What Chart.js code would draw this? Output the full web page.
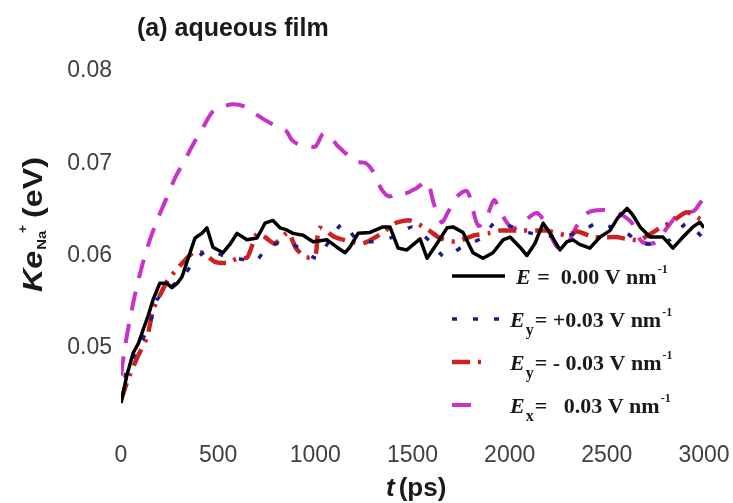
<!DOCTYPE html>
<html>
<head>
<meta charset="utf-8">
<script src="https://cdn.jsdelivr.net/npm/chart.js@4.4.1/dist/chart.umd.min.js"></script>
<style>
html, body { margin: 0; padding: 0; background: #fff; }
#wrap { width: 733px; height: 503px; }
</style>
</head>
<body>
<div id="wrap"><canvas id="keChart" width="733" height="503"></canvas></div>
<script>
// ---------------------------
// DATA : t (ps) / Ke Na+ (eV)
// ---------------------------

// E = 0.00 V/nm
const tE0 = [0, 30, 62, 90, 113, 140, 165, 200, 235, 262, 290, 314, 355, 381, 416, 442, 473, 525, 560, 597,
    648, 700, 741, 782, 818, 850, 885, 937, 988, 1060, 1111, 1153, 1178, 1220, 1281, 1348, 1384, 1426, 1471, 1539,
    1575, 1626, 1678, 1709, 1760, 1811, 1863, 1914, 1966, 2002, 2053, 2089, 2130, 2172, 2208, 2259, 2295, 2326, 2360, 2413,
    2465, 2516, 2557, 2604, 2630, 2671, 2722, 2789, 2840, 2892, 2943, 2979, 3000];
const keE0 = [0.0440, 0.0470, 0.0494, 0.0505, 0.0519, 0.0535, 0.0552, 0.0570, 0.0570, 0.0565, 0.0570, 0.0577, 0.0603, 0.0619, 0.0624, 0.0630, 0.0609, 0.0603, 0.0612, 0.0624,
    0.0617, 0.0619, 0.0635, 0.0638, 0.0630, 0.0628, 0.0624, 0.0622, 0.0615, 0.0617, 0.0609, 0.0603, 0.0609, 0.0624, 0.0625, 0.0631, 0.0631, 0.0608, 0.0606, 0.0618,
    0.0597, 0.0613, 0.0630, 0.0631, 0.0625, 0.0603, 0.0597, 0.0603, 0.0617, 0.0620, 0.0609, 0.0600, 0.0613, 0.0635, 0.0624, 0.0606, 0.0615, 0.0617, 0.0612, 0.0608,
    0.0620, 0.0627, 0.0641, 0.0651, 0.0645, 0.0631, 0.0620, 0.0620, 0.0608, 0.0620, 0.0631, 0.0636, 0.0630];

// Ey = +0.03 V/nm
const tEyPos = [0, 30, 90, 150, 185, 252, 320, 380, 448, 525, 648, 700, 751, 854, 911, 1008, 1075, 1142, 1214,
    1297, 1400, 1500, 1600, 1667, 1760, 1857, 1925, 2012, 2115, 2260, 2378, 2450, 2604, 2670, 2760, 2825, 2912, 2995];
const keEyPos = [0.0445, 0.0476, 0.0500, 0.0527, 0.0552, 0.0565, 0.0577, 0.0595, 0.0606, 0.0600, 0.0595, 0.0595, 0.0609, 0.0615, 0.0609, 0.0597, 0.0617, 0.0635, 0.0617,
    0.0615, 0.0620, 0.0631, 0.0613, 0.0598, 0.0610, 0.0619, 0.0636, 0.0631, 0.0624, 0.0620, 0.0627, 0.0635, 0.0624, 0.0613, 0.0613, 0.0617, 0.0635, 0.0619];

// Ey = -0.03 V/nm
const tEyNeg = [0, 35, 85, 135, 165, 215, 240, 295, 370, 420, 485, 550, 600, 650, 700, 740, 790, 860, 900, 950,
    1000, 1020, 1100, 1180, 1245, 1350, 1410, 1487, 1580, 1640, 1720, 1820, 1890, 1950, 2070, 2150, 2190, 2295, 2350, 2430,
    2550, 2600, 2670, 2790, 2825, 2910, 3000];
const keEyNeg = [0.0443, 0.0465, 0.0490, 0.0512, 0.0541, 0.0563, 0.0573, 0.0587, 0.0603, 0.0603, 0.0593, 0.0592, 0.0597, 0.0598, 0.0624, 0.0620, 0.0613, 0.0625, 0.0608, 0.0598,
    0.0600, 0.0630, 0.0620, 0.0615, 0.0613, 0.0625, 0.0635, 0.0638, 0.0628, 0.0619, 0.0615, 0.0622, 0.0624, 0.0627, 0.0627, 0.0627, 0.0627, 0.0622, 0.0626, 0.0620,
    0.0620, 0.0618, 0.0617, 0.0632, 0.0635, 0.0647, 0.0637];

// Ex = 0.03 V/nm
const tEx = [0, 20, 45, 80, 130, 180, 230, 280, 320, 370, 420, 475, 530, 580, 630, 680, 740, 800, 850, 880,
    920, 960, 1000, 1040, 1080, 1110, 1160, 1200, 1260, 1300, 1340, 1380, 1420, 1460, 1520, 1575, 1610, 1650, 1680, 1730,
    1780, 1810, 1840, 1880, 1920, 1950, 2000, 2030, 2070, 2140, 2190, 2245, 2290, 2345, 2400, 2450, 2500, 2560, 2630, 2680,
    2750, 2810, 2875, 2945, 2980, 3000];
const keEx = [0.0470, 0.0500, 0.0530, 0.0565, 0.0605, 0.0635, 0.0660, 0.0685, 0.0700, 0.0720, 0.0738, 0.0757, 0.0762, 0.0764, 0.0762, 0.0755, 0.0747, 0.0740, 0.0735, 0.0725,
    0.0720, 0.0719, 0.0718, 0.0732, 0.0728, 0.0720, 0.0710, 0.0702, 0.0700, 0.0690, 0.0672, 0.0664, 0.0668, 0.0667, 0.0673, 0.0680, 0.0656, 0.0636, 0.0646, 0.0664,
    0.0670, 0.0650, 0.0632, 0.0641, 0.0660, 0.0648, 0.0632, 0.0630, 0.0636, 0.0646, 0.0632, 0.0609, 0.0610, 0.0632, 0.0646, 0.0649, 0.0649, 0.0646, 0.0635, 0.0615,
    0.0614, 0.0630, 0.0646, 0.0648, 0.0657, 0.0662];

// axis ticks
const xTicks = [0, 500, 1000, 1500, 2000, 2500, 3000];
const yTicks = [0.04, 0.05, 0.06, 0.07, 0.08];

// legend entries: symbol, subscript, rest of the label
const legendSym = ["E", "E", "E", "E"];
const legendSub = ["", "y", "y", "x"];
const legendText = [" =  0.00 V nm", "= +0.03 V nm", "= - 0.03 V nm", "=   0.03 V nm"];

const toPoints = (ts, vs) => ts.map((t, i) => ({ x: t, y: vs[i] }));

// ---------------------------
// TEXT HELPERS
// ---------------------------

function drawRuns(ctx, runs, x, y) {
    let cx = x;
    runs.forEach(r => {
        ctx.font = r.font;
        ctx.fillText(r.text, cx, y + (r.dy || 0));
        cx += ctx.measureText(r.text).width + (r.dx || 0);
    });
}

const sans = '"Liberation Sans", Arial, sans-serif';
const serif = '"Liberation Serif", "Times New Roman", serif';

// title, axis titles and legend
const annotations = {
    id: 'annotations',
    afterDraw(chart) {
        const ctx = chart.ctx;
        ctx.save();
        ctx.fillStyle = '#1a1a1a';
        ctx.textBaseline = 'alphabetic';
        ctx.textAlign = 'left';

        // title
        ctx.font = 'bold 25px ' + sans;
        ctx.fillText('(a) aqueous film', 137, 36);

        // x title
        drawRuns(ctx, [
            { text: 't', font: 'italic bold 26px ' + sans, dx: 4 },
            { text: '(ps)', font: 'bold 26px ' + sans }
        ], 386, 496);

        // y title (stretched a little along the text)
        ctx.save();
        ctx.translate(42, 292);
        ctx.rotate(-Math.PI / 2);
        ctx.scale(1.15, 1);
        drawRuns(ctx, [
            { text: 'Ke', font: 'italic bold 28px ' + sans, dx: 1 },
            { text: 'Na', font: 'bold 13px ' + sans, dy: 4, dx: -2 },
            { text: '+', font: 'bold 12px ' + sans, dy: -15, dx: 6 },
            { text: '(eV)', font: 'bold 28px ' + sans }
        ], 0, 0);
        ctx.restore();

        // legend
        const rowY = [284, 327, 370, 413];
        const sampleLen = [53, 50, 36, 22];
        chart.data.datasets.forEach((ds, i) => {
            const y = rowY[i];
            ctx.save();
            ctx.strokeStyle = ds.borderColor;
            ctx.lineWidth = ds.borderWidth;
            ctx.setLineDash(ds.borderDash || []);
            ctx.lineCap = 'butt';
            ctx.beginPath();
            ctx.moveTo(452, y - 8);
            ctx.lineTo(452 + sampleLen[i], y - 8);
            ctx.stroke();
            ctx.restore();

            const runs = [{ text: legendSym[i], font: 'italic bold 22px ' + serif, dx: 1 }];
            if (legendSub[i]) runs.push({ text: legendSub[i], font: 'bold 16px ' + serif, dy: 8, dx: 1 });
            runs.push({ text: legendText[i], font: 'bold 22px ' + serif, dx: 1 });
            runs.push({ text: '-1', font: 'bold 12px ' + serif, dy: -11 });
            drawRuns(ctx, runs, legendSub[i] ? 510 : 516, y);
        });

        ctx.restore();
    }
};

// ---------------------------
// CHART
// ---------------------------

const ctx = document.getElementById('keChart').getContext('2d');

const keChart = new Chart(ctx, {
    type: 'line',
    data: {
        datasets: [
            {
                label: 'E = 0.00 V nm-1',
                data: toPoints(tE0, keE0),
                borderColor: '#000000',
                borderWidth: 3.5,
                tension: 0,
                borderJoinStyle: 'round'
            },
            {
                label: 'Ey = +0.03 V nm-1',
                data: toPoints(tEyPos, keEyPos),
                borderColor: '#1c1c8a',
                borderWidth: 3.5,
                borderDash: [5, 16],
                tension: 0.2
            },
            {
                label: 'Ey = -0.03 V nm-1',
                data: toPoints(tEyNeg, keEyNeg),
                borderColor: '#cc2222',
                borderWidth: 4.5,
                borderDash: [18, 8, 3, 8],
                tension: 0.2
            },
            {
                label: 'Ex = 0.03 V nm-1',
                data: toPoints(tEx, keEx),
                borderColor: '#c832c8',
                borderWidth: 4,
                borderDash: [19, 14],
                tension: 0.3
            }
        ]
    },
    options: {
        responsive: false,
        animation: false,
        layout: { padding: { top: 71, right: 29, bottom: 0, left: 0 } },
        elements: { point: { radius: 0 } },
        plugins: {
            legend: { display: false },
            title: { display: false },
            tooltip: { enabled: false }
        },
        scales: {
            x: {
                type: 'linear',
                min: 0,
                max: 3000,
                grid: { display: false, drawTicks: false, tickLength: 0 },
                border: { display: false },
                afterBuildTicks: s => { s.ticks = xTicks.map(v => ({ value: v })); },
                afterFit: s => { s.height = 63; },
                ticks: {
                    autoSkip: false,
                    maxRotation: 0,
                    padding: 2,
                    color: '#404040',
                    font: { family: sans, size: 23 },
                    callback: v => String(v)
                }
            },
            y: {
                min: 0.04,
                max: 0.08,
                grid: { display: false, drawTicks: false, tickLength: 0 },
                border: { display: false },
                afterBuildTicks: s => { s.ticks = yTicks.map(v => ({ value: v })); },
                afterFit: s => { s.width = 121; },
                ticks: {
                    padding: 9,
                    color: '#404040',
                    font: { family: sans, size: 23 },
                    callback: v => v <= 0.0401 ? '' : v.toFixed(2)
                }
            }
        }
    },
    plugins: [annotations]
});
</script>
</body>
</html>
